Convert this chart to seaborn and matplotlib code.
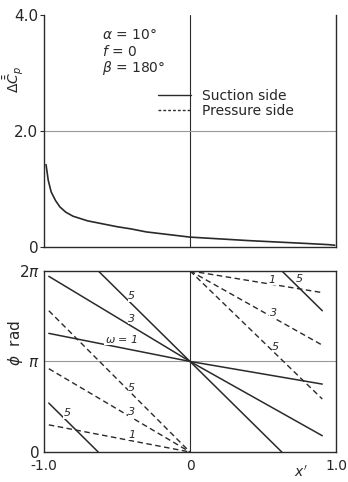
import numpy as np
import matplotlib
matplotlib.use("Agg")
import matplotlib.pyplot as plt
from matplotlib.lines import Line2D
import seaborn as sns

# ---- data ----
# top panel: suction-side pressure difference
x_cp = [-0.985, -0.97, -0.95, -0.92, -0.89, -0.85, -0.8, -0.7, -0.6, -0.5,
        -0.4, -0.3, -0.2, -0.1, 0.0, 0.2, 0.4, 0.6, 0.8, 0.95, 0.99]
dcp = [1.42, 1.15, 0.95, 0.8, 0.69, 0.6, 0.53, 0.45, 0.40, 0.35,
       0.31, 0.26, 0.23, 0.20, 0.17, 0.14, 0.11, 0.085, 0.06, 0.04, 0.03]

# bottom panel: phase lines (phi in units of pi), one segment per entry
suction_x = [[-0.966, 0.0, 0.905],     # w=1
             [-0.966, 0.0, 0.905],     # w=3
             [-0.628, 0.0, 0.628],     # w=5
             [-0.966, -0.628],         # w=5 wrapped
             [0.628, 0.905]]           # w=5 wrapped
suction_phi = [[1.31, 1.0, 0.75],
               [1.94, 1.0, 0.18],
               [2.0, 1.0, 0.0],
               [0.54, 0.0],
               [2.0, 1.56]]
pressure_x = [[-0.966, 0.0], [0.0, 0.905],   # w=1
              [-0.966, 0.0], [0.0, 0.905],   # w=3
              [-0.966, 0.0], [0.0, 0.905]]   # w=5
pressure_phi = [[0.30, 0.0], [2.0, 1.76],
                [0.92, 0.0], [2.0, 1.18],
                [1.56, 0.0], [2.0, 0.585]]

# line labels: text, x, phi/pi
labels = [("5", -0.40, 1.72), ("3", -0.40, 1.47), (r"$\omega$ = 1", -0.47, 1.25),
          ("5", -0.40, 0.71), ("3", -0.40, 0.44), ("1", -0.40, 0.19),
          ("5", -0.84, 0.43), ("1", 0.56, 1.90), ("5", 0.75, 1.91),
          ("3", 0.57, 1.54), ("5", 0.585, 1.16)]

sns.set_style("white")
plt.rcParams["font.family"] = ["DejaVu Sans"]
ink = "#2a2a2a"

fig = plt.figure(figsize=(3.48, 4.82), dpi=100)
ax1 = fig.add_axes([0.126, 0.4876, 0.84, 0.4814])
ax2 = fig.add_axes([0.126, 0.0622, 0.84, 0.3758])

# -----------------------------
# top panel
# -----------------------------
ax1.axvline(0, color=ink, lw=0.8, zorder=1)
ax1.axhline(2.0, color="#999999", lw=0.8, zorder=1)
sns.lineplot(x=x_cp, y=dcp, ax=ax1, color=ink, lw=1.2, sort=False, estimator=None)
ax1.set_xlim(-1, 1)
ax1.set_ylim(0, 4)
ax1.set_yticks([0, 2, 4])
ax1.set_yticklabels(["0", "2.0", "4.0"], fontsize=11)
ax1.set_xticks([])
for s in ["left", "bottom", "right"]:
    ax1.spines[s].set_color(ink)
    ax1.spines[s].set_linewidth(1.0)
ax1.spines["top"].set_visible(False)
ax1.tick_params(axis="y", length=3, color=ink, pad=1, left=True)
ax1.set_ylabel(r"$\Delta\bar{\bar{C}}_p$", fontsize=10, labelpad=2)
ax1.yaxis.set_label_coords(-0.065, 0.72)
ax1.text(-0.60, 3.58, r"$\alpha$ = 10°", fontsize=10, color=ink)
ax1.text(-0.60, 3.30, "$f$ = 0", fontsize=10, color=ink)
ax1.text(-0.60, 3.02, r"$\beta$ = 180°", fontsize=10, color=ink)
handles = [Line2D([], [], color=ink, lw=1.0, ls="-"),
           Line2D([], [], color=ink, lw=1.0, ls=(0, (2, 1.5)))]
ax1.legend(handles, ["Suction side", "Pressure side"], frameon=False,
           loc="upper left", bbox_to_anchor=(0.37, 0.705), fontsize=10,
           handlelength=2.4, handletextpad=0.8, labelspacing=0.05,
           borderaxespad=0)

# -----------------------------
# bottom panel
# -----------------------------
ax2.axvline(0, color=ink, lw=0.8, zorder=1)
ax2.axhline(np.pi, color="#999999", lw=0.8, zorder=1)
for xs, ps in zip(suction_x, suction_phi):
    sns.lineplot(x=xs, y=np.array(ps) * np.pi, ax=ax2, color=ink, lw=1.1,
                 sort=False, estimator=None)
for xs, ps in zip(pressure_x, pressure_phi):
    sns.lineplot(x=xs, y=np.array(ps) * np.pi, ax=ax2, color=ink, lw=1.0,
                 ls=(0, (4, 2.5)), sort=False, estimator=None)
for t, lx, lp in labels:
    ax2.text(lx, lp * np.pi, t, fontsize=8, style="italic", color=ink,
             ha="center", va="center",
             bbox=dict(facecolor="white", edgecolor="none", pad=0.3))
ax2.set_xlim(-1, 1)
ax2.set_ylim(0, 2 * np.pi)
ax2.set_xticks([-1, 0, 1])
ax2.set_xticklabels(["-1.0", "0", "1.0"], fontsize=10)
ax2.set_yticks([0, np.pi, 2 * np.pi])
ax2.set_yticklabels(["0", r"$\pi$", r"2$\pi$"], fontsize=11)
ax2.tick_params(axis="y", length=0, pad=3)
ax2.tick_params(axis="x", length=0, pad=5)
for s in ax2.spines.values():
    s.set_color(ink)
    s.set_linewidth(1.0)
ax2.set_ylabel(r"$\phi$  rad", fontsize=11)
ax2.yaxis.set_label_coords(-0.065, 0.6)
ax2.set_xlabel("$x'$", fontsize=10)
ax2.xaxis.set_label_coords(0.88, -0.07)

fig.savefig("out.png", dpi=100)
